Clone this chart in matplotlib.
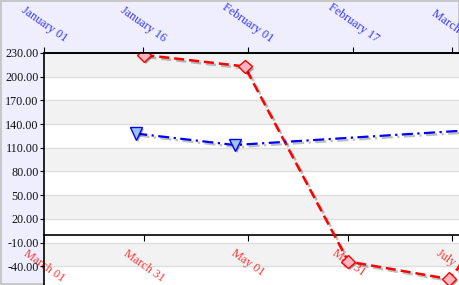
import datetime as dt
import matplotlib
matplotlib.use('Agg')
import matplotlib.pyplot as plt
import matplotlib.dates as mdates
import matplotlib.patheffects as pe
from matplotlib.ticker import FormatStrFormatter

# red series (bottom axis)
red_dates = [dt.date(2024, 3, 31), dt.date(2024, 4, 30), dt.date(2024, 5, 31),
             dt.date(2024, 6, 30), dt.date(2024, 7, 31)]
red_vals = [227.5, 213.0, -34.0, -56.0, 92.0]

# blue series (top axis)
blue_dates = [dt.date(2024, 1, 15), dt.date(2024, 1, 30), dt.date(2024, 3, 10)]
blue_vals = [128.0, 113.5, 134.5]

bottom_ticks = [dt.date(2024, 3, 1), dt.date(2024, 3, 31), dt.date(2024, 5, 1),
                dt.date(2024, 5, 31), dt.date(2024, 7, 1)]
top_ticks = [dt.date(2024, 1, 1), dt.date(2024, 1, 16), dt.date(2024, 2, 1),
             dt.date(2024, 2, 17), dt.date(2024, 3, 3)]
y_ticks = [230, 200, 170, 140, 110, 80, 50, 20, -10, -40]

font = 'Liberation Serif'
W, H = 460, 285
fig = plt.figure(figsize=(W / 100, H / 100), dpi=100, facecolor='#EEEEFF',
                 edgecolor='#C8C8C8', linewidth=1.5)
ax = fig.add_axes([44 / W, 0, 416 / W, (285 - 53) / H])
ax.set_facecolor('white')

ax.set_ylim(-63.7, 230)
# alternating bands
edges = [230, 200, 170, 140, 110, 80, 50, 20, -10, -40, -70]
for i in range(len(edges) - 1):
    if i % 2 == 0:
        ax.axhspan(edges[i + 1], edges[i], color='#F2F2F2', zorder=0, lw=0)
for y in y_ticks:
    ax.axhline(y, color='#DEDEDE', lw=1, zorder=0.5)

d0 = mdates.date2num(dt.date(2024, 3, 1))
ax.set_xlim(d0, d0 + 122 * 416 / 408)
ax.set_xticks([mdates.date2num(d) for d in bottom_ticks])
ax.xaxis.set_major_formatter(mdates.DateFormatter('%B %d'))
ax.spines['bottom'].set_position(('data', 0))
ax.spines['right'].set_visible(False)
ax.tick_params(axis='x', direction='out', length=4, pad=5, labelsize=8.7,
               labelcolor='#FF3333', color='black')
for lab in ax.get_xticklabels():
    lab.set_rotation(-35)
    lab.set_fontfamily(font)
ax.set_yticks(y_ticks)
ax.yaxis.set_major_formatter(FormatStrFormatter('%.2f'))
ax.tick_params(axis='y', direction='out', length=3, pad=1, labelsize=8.7,
               labelcolor='#111111')
for lab in ax.get_yticklabels():
    lab.set_fontfamily(font)
for s in ['left', 'bottom', 'top']:
    ax.spines[s].set_linewidth(1.2)

shadow_line = [pe.SimpleLineShadow(offset=(1.5, -1.5), shadow_color='black', alpha=0.25), pe.Normal()]
shadow_mark = [pe.SimplePatchShadow(offset=(1.5, -1.5), shadow_rgbFace='black', alpha=0.35), pe.Normal()]

rx = [mdates.date2num(d) for d in red_dates]
ax.plot(rx, red_vals, color='#FF0000', lw=1.8, ls=(0, (4, 2)), zorder=3,
        path_effects=shadow_line)
ax.plot(rx, red_vals, ls='none', marker='D', ms=7, mfc='#FFB6C1', mec='#FF0000',
        mew=1, zorder=4, path_effects=shadow_mark)

ax2 = ax.twiny()
t0 = mdates.date2num(dt.date(2024, 1, 1))
ax2.set_xlim(t0, t0 + 62 * 416 / 408)
ax2.set_xticks([mdates.date2num(d) for d in top_ticks])
ax2.xaxis.set_major_formatter(mdates.DateFormatter('%B %d'))
ax2.tick_params(axis='x', direction='out', length=4, pad=2, labelsize=8.7,
                labelcolor='#3333FF', color='black')
for lab in ax2.get_xticklabels():
    lab.set_rotation(-35)
    lab.set_fontfamily(font)
for s in ['left', 'bottom', 'right']:
    ax2.spines[s].set_visible(False)
ax2.spines['top'].set_linewidth(1.2)

bx = [mdates.date2num(d) for d in blue_dates]
ax2.plot(bx, blue_vals, color='#0000FF', lw=1.6, ls=(0, (5, 2, 1, 2)), zorder=3,
         path_effects=shadow_line)
ax2.plot(bx, blue_vals, ls='none', marker='v', ms=9, mfc='#9DC3F0', mec='#0000FF',
         mew=1, zorder=4, path_effects=shadow_mark)

fig.savefig('out.png', dpi=100)
